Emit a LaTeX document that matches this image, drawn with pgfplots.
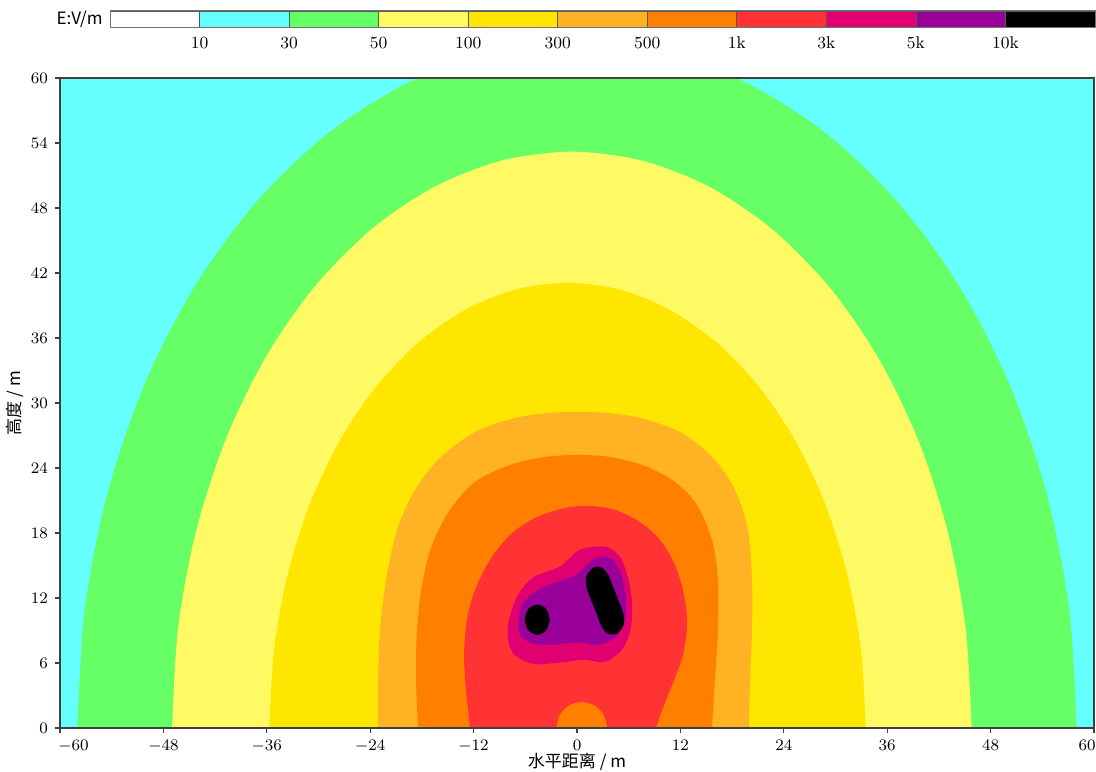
\documentclass[border=0pt]{standalone}
\usepackage{fontspec}
\usepackage{pgfplots}
\pgfplotsset{compat=1.18}
\newfontfamily\cjk{Noto Sans CJK SC}
\definecolor{cW}{RGB}{255,255,255}
\definecolor{cA}{RGB}{102,255,255}
\definecolor{cB}{RGB}{102,255,102}
\definecolor{cC}{RGB}{255,250,100}
\definecolor{cD}{RGB}{255,230,0}
\definecolor{cE}{RGB}{255,178,36}
\definecolor{cF}{RGB}{255,128,0}
\definecolor{cG}{RGB}{255,51,51}
\definecolor{cH}{RGB}{224,0,112}
\definecolor{cI}{RGB}{153,0,153}
\definecolor{cJ}{RGB}{0,0,0}
\begin{document}
\begin{tikzpicture}
\useasboundingbox (-30pt,-21.5pt) rectangle (518pt,364pt);
\begin{axis}[
  at={(0pt,0pt)}, anchor=south west,
  scale only axis, width=517pt, height=325pt,
  xmin=-60, xmax=60, ymin=0, ymax=60,
  xtick={-60,-48,...,60}, ytick={0,6,...,60},
  xticklabels={\hspace*{13.5pt}$-60$,$-48$,$-36$,$-24$,$-12$,$0$,$12$,$24$,$36$,$48$,$60$\hspace*{7pt}},
  tick align=outside, tick pos=left, major tick length=2.5pt,
  axis background/.style={fill=cA},
  axis line style={draw=black!75, line width=0.6pt},
  tick style={draw=black!75, line width=0.6pt},
  axis on top,
  tick label style={font=\fontsize{8}{9.6}\selectfont},
  xlabel={\cjk 水平距离 / m},
  ylabel={\cjk 高度 / m},
  label style={font=\fontsize{8.5}{10}\selectfont},
  xlabel style={at={(axis description cs:0.5,-0.0523)}, anchor=center},
  ylabel style={at={(axis description cs:-0.0435,0.5)}, anchor=center},
]
% 30-50
\addplot[fill=cB, draw=none, smooth] coordinates {
(-58,-1) (-58,0) (-57.12,10.99) (-54.50,21.65) (-50.23,31.65) (-44.43,40.69) (-37.28,48.49) (-29.0,54.82) (-19.84,59.48) (-10.07,62.34) (0,63.3) (10.07,62.34) (19.84,59.48) (29.0,54.82) (37.28,48.49) (44.43,40.69) (50.23,31.65) (54.50,21.65) (57.12,10.99) (58,0) (58,-1)} -- cycle;
% 50-100
\addplot[fill=cC, draw=none, smooth] coordinates {
(-47.0,-1) (-47.0,0) (-46.29,9.24) (-44.2,18.19) (-40.78,26.6) (-36.14,34.20) (-30.43,40.75) (-23.8,46.07) (-16.47,49.99) (-8.66,52.39) (-0.6,53.2) (7.46,52.39) (15.27,49.99) (22.6,46.07) (29.23,40.75) (34.94,34.20) (39.58,26.6) (43.0,18.19) (45.09,9.24) (45.8,0) (45.8,-1)} -- cycle;
% 100-300
\addplot[fill=cD, draw=none, smooth] coordinates {
(-35.7,-1) (-35.7,0) (-35.17,7.13) (-33.61,14.06) (-31.06,20.55) (-27.6,26.42) (-23.34,31.48) (-18.4,35.59) (-12.93,38.62) (-7.11,40.48) (-1.1,41.1) (4.91,40.48) (10.73,38.62) (16.2,35.59) (21.14,31.48) (25.4,26.42) (28.86,20.55) (31.41,14.06) (32.97,7.13) (33.5,0) (33.5,-1)} -- cycle;
% 300-500
\addplot[fill=cE, draw=none, smooth] coordinates {
(-23.09,-1) (-23.09,0) (-23.09,4.43) (-22.86,9.05) (-22.17,13.67) (-20.89,18.28) (-18.80,21.98) (-15.90,24.93) (-11.84,27.33) (-7.20,28.62) (-3.13,29.09) (0,29.18) (3.25,29.09) (7.31,28.62) (11.95,27.33) (15.78,24.93) (18.34,21.98) (19.84,18.28) (20.31,13.67) (20.31,9.05) (20.08,4.43) (19.96,0) (19.96,-1)} -- cycle;
% 500-1k
\addplot[fill=cF, draw=none, smooth] coordinates {
(-18.45,-1) (-18.45,0) (-18.68,4.43) (-18.57,9.05) (-17.99,13.20) (-16.83,16.90) (-14.74,20.13) (-11.84,22.71) (-7.78,24.28) (-3.71,25.02) (0,25.21) (3.83,25.02) (7.89,24.19) (11.37,22.71) (13.93,20.59) (15.67,17.36) (16.36,13.67) (16.36,9.05) (16.01,4.43) (15.67,0) (15.67,-1)} -- cycle;
% 1k-3k
\addplot[fill=cG, draw=none, smooth] coordinates {
(-12.42,-1) (-12.42,0) (-12.88,3.51) (-13.11,6.74) (-12.77,9.97) (-11.84,12.74) (-10.10,15.51) (-7.78,17.82) (-4.87,19.39) (-1.39,20.31) (1.51,20.50) (4.41,20.13) (7.31,19.02) (9.63,17.36) (11.37,15.05) (12.42,12.28) (12.77,9.51) (12.30,6.74) (11.26,4.43) (10.10,2.12) (9.17,0) (9.17,-1)} -- cycle;
% small 500-1k dome at the ground
\addplot[fill=cF, draw=none, smooth] coordinates {
(-2.4,-1) (-2.4,0) (-2.0,1.2) (-0.93,2.08) (0.55,2.4) (2.03,2.08) (3.10,1.2) (3.5,0) (3.5,-1)} -- cycle;
% 3k-5k
\addplot[fill=cH, draw=none, smooth] coordinates {
(-8.0,9.7) (-7.0,12.1) (-5.1,13.9) (-2.0,14.9) (0,16.3) (1.5,16.7) (3.5,16.7) (5.0,15.8) (5.9,13.9) (6.4,11.5) (6.2,9.0) (5.2,7.2) (3.2,6.1) (0.9,6.3) (-1.4,6.1) (-4.9,5.9) (-7.2,6.7) (-8.0,8.1) (-8.0,9.7)} -- cycle;
% 5k-10k
\addplot[fill=cI, draw=none, smooth] coordinates {
(-6.8,9.5) (-6.4,11.4) (-4.6,12.7) (-2.6,13.4) (-0.2,14.1) (1.3,15.2) (2.7,15.8) (4.2,15.5) (5.2,14.1) (5.7,11.8) (5.5,9.8) (4.4,8.3) (2.4,7.7) (0.1,7.9) (-2.6,7.7) (-5.2,7.8) (-6.6,8.6) (-6.8,9.5)} -- cycle;
% >10k
\addplot[fill=cJ, draw=none, smooth] coordinates {
(-3.15,10) (-3.57,10.99) (-4.6,11.4) (-5.63,10.99) (-6.05,10) (-5.63,9.01) (-4.6,8.6) (-3.57,9.01) (-3.15,10)} -- cycle;
\addplot[fill=cJ, draw=none, smooth] coordinates {
(3.66,14.11) (2.86,14.82) (1.79,14.76) (1.08,13.96) (1.14,12.89) (2.0,11.1) (2.84,9.39) (3.64,8.68) (4.71,8.74) (5.42,9.54) (5.36,10.61) (4.5,12.4) (3.66,14.11)} -- cycle;
\end{axis}
\begin{axis}[
  name=cbar,
  at={(25pt,350pt)}, anchor=south west,
  scale only axis, width=492.5pt, height=8.5pt,
  xmin=0, xmax=11, ymin=0, ymax=1,
  xtick={1,...,10}, xticklabels={10,30,50,100,300,500,1k,3k,5k,10k},
  ytick=\empty, major tick length=0pt,
  axis line style={draw=black!55, line width=0.5pt},
  tick label style={font=\fontsize{8.5}{10}\selectfont},
  xticklabel style={yshift=-1pt},
  axis on top,
]
\addplot[fill=cW, draw=black!65] coordinates {(0,0) (1,0) (1,1) (0,1)} -- cycle;
\addplot[fill=cA, draw=black!65] coordinates {(1,0) (2,0) (2,1) (1,1)} -- cycle;
\addplot[fill=cB, draw=black!65] coordinates {(2,0) (3,0) (3,1) (2,1)} -- cycle;
\addplot[fill=cC, draw=black!65] coordinates {(3,0) (4,0) (4,1) (3,1)} -- cycle;
\addplot[fill=cD, draw=black!65] coordinates {(4,0) (5,0) (5,1) (4,1)} -- cycle;
\addplot[fill=cE, draw=black!65] coordinates {(5,0) (6,0) (6,1) (5,1)} -- cycle;
\addplot[fill=cF, draw=black!65] coordinates {(6,0) (7,0) (7,1) (6,1)} -- cycle;
\addplot[fill=cG, draw=black!65] coordinates {(7,0) (8,0) (8,1) (7,1)} -- cycle;
\addplot[fill=cH, draw=black!65] coordinates {(8,0) (9,0) (9,1) (8,1)} -- cycle;
\addplot[fill=cI, draw=black!65] coordinates {(9,0) (10,0) (10,1) (9,1)} -- cycle;
\addplot[fill=cJ, draw=black!65] coordinates {(10,0) (11,0) (11,1) (10,1)} -- cycle;
\end{axis}
\node[anchor=east, font=\cjk\fontsize{8.5}{10}\selectfont, inner sep=0pt] at ([xshift=-3.5pt]cbar.west) {E:V/m};
\end{tikzpicture}
\end{document}
